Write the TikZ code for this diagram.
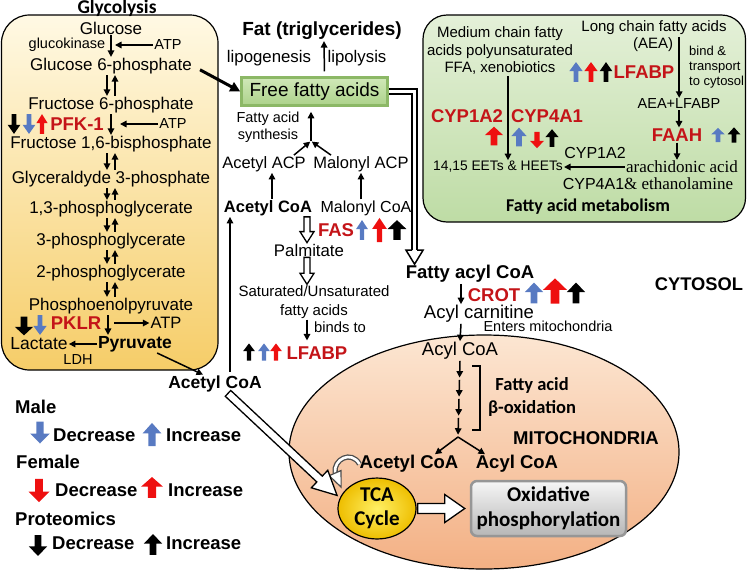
\documentclass[tikz,border=0pt]{standalone}
\usepackage{fontspec}
\setmainfont{Liberation Sans}
\newfontfamily\serfont{Liberation Serif}
\newfontfamily\calfont{Carlito}
\usepackage{tikz}
\usetikzlibrary{arrows.meta}
\usetikzlibrary{shapes.geometric}
\usetikzlibrary{positioning}
\usetikzlibrary{calc}
\definecolor{enzred}{RGB}{196,20,24}
\definecolor{arrred}{RGB}{238,16,16}
\definecolor{mblue}{RGB}{88,122,194}
\definecolor{mbluelt}{RGB}{172,198,238}
\definecolor{glytop}{RGB}{255,249,228}
\definecolor{glybot}{RGB}{246,205,104}
\definecolor{fatop}{RGB}{228,240,216}
\definecolor{fabot}{RGB}{190,220,165}
\definecolor{ffatop}{RGB}{208,232,184}
\definecolor{ffabot}{RGB}{172,210,138}
\definecolor{ffaedge}{RGB}{140,184,102}
\definecolor{mitotop}{RGB}{252,230,210}
\definecolor{mitobot}{RGB}{243,176,132}
\definecolor{tcain}{RGB}{255,240,100}
\definecolor{tcaout}{RGB}{238,190,0}
\definecolor{oxtop}{RGB}{246,246,246}
\definecolor{oxbot}{RGB}{182,182,182}
\definecolor{oxedge}{RGB}{150,150,150}
\tikzset{>={Triangle[length=6.5pt,width=6.5pt]},
  fs/.style={font=\fontsize{#1}{#1}\selectfont},
  fb/.style={font=\bfseries\fontsize{#1}{#1}\selectfont},
  fc/.style={font=\calfont\bfseries\fontsize{#1}{#1}\selectfont},
  enz/.style={text=enzred, font=\bfseries\fontsize{18.5}{19}\selectfont},
  conn/.style={->, line width=1.5pt},
  blk/.style={fill=white, draw=black, line width=1.3pt, line join=miter},
  mal/.style={left color=mblue, middle color=mbluelt, right color=mblue},
  fem/.style={fill=arrred},
  prot/.style={fill=black},
  uparr/.pic={\path[#1] (-2.6,11) -- (-2.6,-1) -- (-7,-1) -- (0,-11) -- (7,-1) -- (2.6,-1) -- (2.6,11) -- cycle;},
  dnarr/.pic={\path[#1] (-2.6,-11) -- (-2.6,1) -- (-7,1) -- (0,11) -- (7,1) -- (2.6,1) -- (2.6,-11) -- cycle;}
}
\newcommand{\blockarr}[5]{%
  \coordinate (hb) at ($(#2)!#3!(#1)$);
  \draw[blk] ($(#1)!#4!90:(#2)$) -- ($(hb)!#4!-90:(#1)$) -- ($(hb)!#5!-90:(#1)$) -- (#2)
    -- ($(hb)!#5!90:(#1)$) -- ($(hb)!#4!90:(#1)$) -- ($(#1)!#4!-90:(#2)$) -- cycle;}
\newcommand{\revpair}[2]{%
  \draw[conn] ([xshift=-4pt]#1.south) -- ([xshift=-4pt]#2.north);
  \draw[conn] ([xshift=4pt]#2.north) -- ([xshift=4pt]#1.south);}

\begin{document}
\begin{tikzpicture}[x=1pt, y=-1pt, every node/.append style={inner sep=1pt}]
\useasboundingbox (0,0) rectangle (747,571);
\draw[line width=1.2pt, rounded corners=28pt, top color=glytop, bottom color=glybot] (1.5,15) rectangle (218,370);
\draw[line width=1.2pt, rounded corners=24pt, top color=fatop, bottom color=fabot] (423,15) rectangle (745.5,222);
\draw[line width=1.2pt, top color=mitotop, bottom color=mitobot] (484,452) ellipse (195 and 117);

\node[fc=19.5] (glytitle) at (117,8) {Glycolysis};
\node[fs=17] (glc) at (111,28) {Glucose};
\node[fs=14.5] (gk) at (67,45) {glucokinase};
\node[fs=14.5] (atp1) at (168,45) {ATP};
\node[fs=17] (g6p) at (111,66) {Glucose 6-phosphate};
\node[fs=17] (f6p) at (111,105) {Fructose 6-phosphate};
\node[enz] (pfk) at (77,124) {PFK-1};
\node[fs=14.5] (atp2) at (173,124) {ATP};
\node[fs=17] (f16) at (111,144) {Fructose 1,6-bisphosphate};
\node[fs=17] (gap) at (111,179) {Glyceraldyde 3-phosphate};
\node[fs=17] (bpg) at (111,209) {1,3-phosphoglycerate};
\node[fs=17] (pg3) at (111,241) {3-phosphoglycerate};
\node[fs=17] (pg2) at (111,273) {2-phosphoglycerate};
\node[fs=17] (pep) at (111,306) {Phosphoenolpyruvate};
\node[enz] (pklr) at (76,323) {PKLR};
\node[fs=16.5] (atp3) at (166,323) {ATP};
\node[fb=17.5] (pyr) at (135,344) {Pyruvate};
\node[fs=17.5] (lac) at (39,344) {Lactate};
\node[fs=14.5] (ldh) at (78,360) {LDH};
\node[fb=17.5] (acoa2) at (215,384) {Acetyl CoA};

\node[fb=19] (fat) at (322,31) {Fat (triglycerides)};
\node[fs=16.8] (lipog) at (269,58) {lipogenesis};
\node[fs=16.8] (lipol) at (357,58) {lipolysis};
\node[fs=19, draw=ffaedge, line width=2.5pt, top color=ffatop, bottom color=ffabot, minimum width=146pt, minimum height=28pt] (ffa) at (314.5,91.5) {Free fatty acids};
\node[align=center, font=\fontsize{14.5}{17}\selectfont] (fasyn) at (268,127) {Fatty acid\\synthesis};
\coordinate (junc) at (311,141);
\node[fs=16.5] (acp) at (264,164) {Acetyl ACP};
\node[fs=16.5] (macp) at (361,164) {Malonyl ACP};
\node[fb=16.5] (acoa1) at (268,208) {Acetyl CoA};
\node[fs=16] (mcoa) at (366,208) {Malonyl CoA};
\node[enz] (fas) at (336,230) {FAS};
\node[fs=16.8] (palm) at (309,250) {Palmitate};
\node[align=center, font=\fontsize{15}{19}\selectfont] (sat) at (314,302) {Saturated/Unsaturated\\fatty acids};
\node[fs=14.8] (binds) at (340,327) {binds to};
\node[enz] (lfabp2) at (317,353) {LFABP};

\node[align=center, font=\fontsize{15}{17.5}\selectfont] (med) at (500,51) {Medium chain fatty\\acids polyunsaturated\\FFA, xenobiotics};
\node[fs=15] (lcfa) at (654,28) {Long chain fatty acids};
\node[fs=15] (aea) at (653,45) {(AEA)};
\node[align=left, anchor=west, font=\fontsize{13}{15}\selectfont] (bind) at (688,67) {bind \&\\transport\\to cytosol};
\node[enz] (lfabp1) at (644,72) {LFABP};
\node[fs=14.5] (aeal) at (679,104) {AEA+LFABP};
\node[enz] (faah) at (677,135) {FAAH};
\node[enz] (cyp1a2r) at (467,116) {CYP1A2};
\node[enz] (cyp4a1r) at (547,116) {CYP4A1};
\node[fs=16] (cyp1a2b) at (595,153) {CYP1A2};
\node[font=\serfont\fontsize{17}{17}\selectfont] (arach) at (682,167) {arachidonic acid};
\node[fs=13.8] (eets) at (498,167) {14,15 EETs \& HEETs};
\node[fs=16] (eth) at (648,184) {CYP4A1{\serfont\fontsize{17}{17}\selectfont\& ethanolamine}};
\node[fc=18] (fam) at (588,207) {Fatty acid metabolism};

\node[fb=18.5] (fac) at (470,274) {Fatty acyl CoA};
\node[enz] (crot) at (494,295) {CROT};
\node[fb=18.3] (cyt) at (699,284) {CYTOSOL};
\node[fs=18.5] (acar) at (479,314) {Acyl carnitine};
\node[fs=14.5] (enter) at (548,326) {Enters mitochondria};
\node[fs=18.5] (acyl1) at (460,351) {Acyl CoA};
\coordinate (fork) at (458,437);
\node[align=center, font=\calfont\bfseries\fontsize{18.5}{23}\selectfont] (beta) at (532,397) {Fatty acid\\β-oxidation};
\node[fb=18.5] (mito) at (586,438) {MITOCHONDRIA};
\node[fb=18.5] (acet2) at (409,464) {Acetyl CoA};
\node[fb=18.5] (acyl2) at (517,464) {Acyl CoA};
\node[ellipse, draw, line width=1.2pt, inner color=tcain, outer color=tcaout, minimum width=78pt, minimum height=56pt, align=center, font=\calfont\bfseries\fontsize{21}{24}\selectfont] (tca) at (377,508.5) {TCA\\Cycle};
\node[draw=oxedge, line width=2.5pt, rounded corners=6pt, top color=oxtop, bottom color=oxbot, minimum width=155pt, minimum height=55pt, align=center, font=\calfont\bfseries\fontsize{21}{25}\selectfont] (ox) at (548.5,508.5) {Oxidative\\phosphorylation};

\node[fb=18.5, anchor=west] (male) at (14,407) {Male};
\node[fb=18.5, anchor=west] (dec1) at (52,435) {Decrease};
\node[fb=18.5, anchor=west] (inc1) at (165,435) {Increase};
\node[fb=18.5, anchor=west] (female) at (15,462) {Female};
\node[fb=18.5, anchor=west] (dec2) at (54,490) {Decrease};
\node[fb=18.5, anchor=west] (inc2) at (167,490) {Increase};
\node[fb=18.5, anchor=west] (proteo) at (14,519) {Proteomics};
\node[fb=18.5, anchor=west] (dec3) at (51,543) {Decrease};
\node[fb=18.5, anchor=west] (inc3) at (165,543) {Increase};

\draw[conn] (glc.south) -- (g6p.north);
\coordinate (j1) at ($(glc.south)!0.5!(g6p.north)$);
\draw[conn, shorten >=4pt] (atp1.west) -- (atp1.west -| j1);
\revpair{g6p}{f6p}
\draw[conn] (f6p.south) -- (f16.north);
\coordinate (j2) at ($(f6p.south)!0.5!(f16.north)$);
\draw[conn, shorten >=9pt] (atp2.west) -- (atp2.west -| j2);
\revpair{f16}{gap}
\revpair{gap}{bpg}
\revpair{bpg}{pg3}
\revpair{pg3}{pg2}
\revpair{pg2}{pep}
\coordinate (pk) at ([xshift=-3pt]pep.south);
\draw[conn] (pk) -- (pk |- pyr.north);
\draw[conn, shorten <=6pt] (atp3.west -| pk) -- (atp3.west);
\draw[conn] (pyr.west) -- (lac.east);
\draw[conn] ([xshift=-16pt]pyr.south east) -- ([xshift=-12pt]acoa2.north);
\draw[conn, shorten <=3pt] ([xshift=15pt]acoa2.north) -- ([xshift=-38pt]acoa1.south);

\draw[-{Triangle[length=10pt,width=10pt]}, line width=3pt, shorten <=8pt] (g6p.east) -- (ffa.west);
\draw[conn, shorten <=5pt] ([xshift=10pt]ffa.north) -- ([xshift=2pt]fat.south);
\draw[conn, shorten >=5pt] (junc) -- (junc |- ffa.south);
\draw[conn, shorten >=1pt] ([xshift=-13pt]acp.north east) -- (junc);
\draw[conn, shorten >=1pt] ([xshift=-30pt]macp.north) -- (junc);
\draw[conn] ([xshift=4pt]acoa1.north) -- ([xshift=8pt]acp.south);
\draw[conn] ([xshift=-5pt]mcoa.north) -- (macp.south);
\coordinate (p1s) at ([xshift=39pt]acoa1.south);
\coordinate (p1t) at ([xshift=-2pt]palm.north);
\blockarr{p1s}{p1t}{11pt}{3pt}{7pt}
\coordinate (p2s) at ([xshift=-2pt]palm.south);
\coordinate (p2t) at ([xshift=-7pt]sat.north);
\blockarr{p2s}{p2t}{11pt}{3pt}{7pt}
\draw[conn, shorten >=5pt] ([xshift=-7pt]sat.south) -- ([xshift=-10pt]lfabp2.north);

\coordinate (dtip) at ([xshift=10pt]fac.north west);
\coordinate (dbase) at ([yshift=14pt]dtip);
\draw[line width=2pt, double=white, double distance=3pt] (ffa.east) -| (dbase);
\filldraw[fill=white, line width=1.5pt, line join=miter] ([xshift=-2.5pt]dbase) -- ([xshift=-8.5pt]dbase) -- (dtip) -- ([xshift=8.5pt]dbase) -- ([xshift=2.5pt]dbase);

\coordinate (aet) at ([xshift=5pt]aea.north east);
\draw[conn] (aet) -- (aet |- aeal.north);
\draw[conn] (aeal.south) -- (aeal.south |- faah.north);
\draw[conn] (faah.south) -- (faah.south |- arach.north);
\draw[conn] (arach.west) -- (eets.east);
\draw[conn] ([xshift=8pt]med.south) -- ([xshift=10pt]eets.north);

\draw[conn] ([xshift=-9pt]fac.south) -- ([xshift=-18pt]acar.north);
\draw[conn] ([xshift=-18pt]acar.south) -- (acyl1.north);
\foreach \a/\b in {0/0.22, 0.25/0.47, 0.5/0.72, 0.75/0.97}
  \draw[conn] ($(acyl1.south)!\a!(fork)$) -- ($(acyl1.south)!\b!(fork)$);
\draw[line width=1.3pt] (472,366) -- (480,366) -- (480,430) -- (472,430);
\draw[conn] (fork) -- ([xshift=26pt]acet2.north);
\draw[conn] (fork) -- ([xshift=-32pt]acyl2.north);

\coordinate (cvs) at ([xshift=1pt]acet2.west);
\coordinate (cvt) at ([shift={(-4,-3)}]tca.150);
\coordinate (cve) at ([shift={(-6,-14)}]cvt);
\draw[draw=black!70, line width=1.3pt, double=white, double distance=2.6pt] (cvs) .. controls +(-8,-14) and +(-2,-14) .. (cve);
\filldraw[fill=white, draw=black!70, line width=1.2pt, line join=miter] ($(cve)!6.5pt!90:(cvt)$) -- (cvt) -- ($(cve)!6.5pt!-90:(cvt)$) -- cycle;

\coordinate (ls) at ([xshift=13pt]acoa2.south);
\coordinate (lt) at ([xshift=-4pt]tca.160);
\blockarr{ls}{lt}{24pt}{4pt}{12pt}
\coordinate (os) at ([xshift=1pt]tca.east);
\coordinate (ot) at ([xshift=-5pt]ox.west);
\blockarr{os}{ot}{20pt}{5pt}{14pt}

\pic[scale=0.9] at (14,124) {dnarr=prot};
\pic[scale=0.9] at (29,124) {dnarr=mal};
\pic[xscale=0.8, yscale=0.9] at (42,124) {uparr=fem};
\pic[xscale=1.3, yscale=0.85] at (24,326) {dnarr=prot};
\pic[xscale=0.95, yscale=0.9] at (40,325) {dnarr=mal};
\pic[xscale=0.85, yscale=0.9] at (362,230) {uparr=mal};
\pic[xscale=1.05, yscale=1.1] at (379.5,230) {uparr=fem};
\pic[xscale=1.35, yscale=0.9] at (397,230) {uparr=prot};
\pic[xscale=0.85, yscale=0.78] at (249,352) {uparr=prot};
\pic[xscale=0.85, yscale=0.78] at (264,352) {uparr=mal};
\pic[xscale=0.85, yscale=0.78] at (276,352) {uparr=fem};
\pic[xscale=0.95, yscale=0.9] at (576,72) {uparr=mal};
\pic[xscale=0.95, yscale=0.9] at (591,72) {uparr=fem};
\pic[xscale=0.9, yscale=0.9] at (606,72) {uparr=prot};
\pic[xscale=1.3, yscale=0.85] at (494,136) {uparr=fem};
\pic[xscale=1.1, yscale=0.85] at (519,137) {uparr=mal};
\pic[xscale=1.0, yscale=0.75] at (537,140) {dnarr=fem};
\pic[xscale=0.95, yscale=0.8] at (552,138) {uparr=prot};
\pic[xscale=0.95, yscale=0.65] at (718,135) {uparr=mal};
\pic[xscale=0.9, yscale=0.7] at (734,135) {uparr=prot};
\pic[xscale=1.3, yscale=0.95] at (534,293) {uparr=mal};
\pic[xscale=1.7, yscale=1.15] at (555,291) {uparr=fem};
\pic[xscale=1.3, yscale=0.95] at (576,293) {uparr=prot};

\pic[xscale=1.4, yscale=1.0] at (40,432.5) {dnarr=mal};
\pic[xscale=1.35, yscale=1.05] at (152,434.5) {uparr=mal};
\pic[xscale=1.5, yscale=1.05] at (39,490.5) {dnarr=fem};
\pic[xscale=1.55, yscale=0.95] at (152,487.5) {uparr=fem};
\pic[xscale=1.3, yscale=0.95] at (38,545.5) {dnarr=prot};
\pic[xscale=1.3, yscale=0.95] at (153,544.5) {uparr=prot};
\end{tikzpicture}
\end{document}
